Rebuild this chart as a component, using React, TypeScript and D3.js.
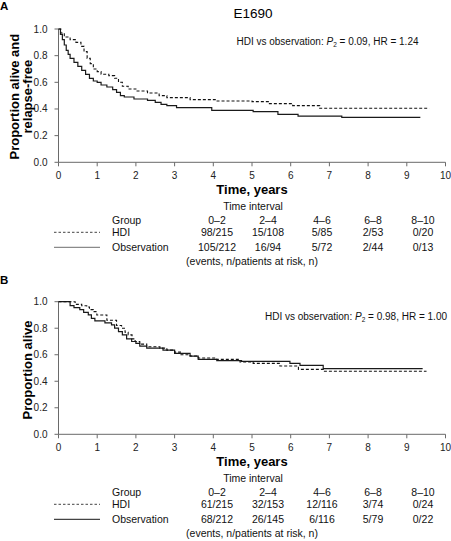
import React from "react";
import * as d3 from "d3";

// ---------- Data ----------
const xTicks = [0, 1, 2, 3, 4, 5, 6, 7, 8, 9, 10];
const yTicks = [0, 0.2, 0.4, 0.6, 0.8, 1.0];
const intervals = ["0–2", "2–4", "4–6", "6–8", "8–10"];

// Panel A (E1690, relapse-free survival)
const aHdiTimes = [0, 0.06, 0.15, 0.3, 0.45, 0.58, 0.66, 0.74, 0.82, 0.9, 1.0, 1.1, 1.3, 1.45, 1.55, 1.65, 1.8, 2.0, 2.3, 2.6, 2.8, 3.4, 4.05, 5.0, 5.45, 6.05, 6.75, 9.58];
const aHdiSurv = [1.0, 0.97, 0.94, 0.92, 0.9, 0.87, 0.83, 0.78, 0.74, 0.7, 0.68, 0.66, 0.65, 0.63, 0.6, 0.57, 0.55, 0.535, 0.52, 0.5, 0.485, 0.47, 0.46, 0.455, 0.44, 0.425, 0.405, 0.405];
const aObsTimes = [0, 0.05, 0.1, 0.15, 0.2, 0.25, 0.3, 0.4, 0.5, 0.6, 0.7, 0.8, 0.9, 1.0, 1.1, 1.25, 1.4, 1.5, 1.6, 1.7, 1.95, 2.3, 2.5, 2.65, 2.8, 3.05, 3.96, 5.03, 5.67, 6.19, 7.32, 9.35];
const aObsSurv = [1.0, 0.96, 0.92, 0.88, 0.84, 0.81, 0.78, 0.75, 0.72, 0.69, 0.66, 0.63, 0.61, 0.6, 0.58, 0.565, 0.545, 0.525, 0.5, 0.49, 0.475, 0.465, 0.45, 0.435, 0.425, 0.41, 0.39, 0.38, 0.36, 0.347, 0.337, 0.337];
const aHdiRisk = ["98/215", "15/108", "5/85", "2/53", "0/20"];
const aObsRisk = ["105/212", "16/94", "5/72", "2/44", "0/13"];

// Panel B (overall survival)
const bHdiTimes = [0, 0.43, 0.6, 0.73, 0.8, 0.9, 0.99, 1.25, 1.5, 1.63, 1.72, 1.8, 1.9, 1.98, 2.1, 2.28, 2.62, 2.8, 3.0, 3.15, 3.4, 3.61, 4.05, 4.69, 5.03, 5.72, 6.2, 6.84, 9.51];
const bHdiSurv = [1.0, 0.98, 0.97, 0.96, 0.94, 0.925, 0.9, 0.86, 0.82, 0.8, 0.77, 0.75, 0.72, 0.7, 0.68, 0.66, 0.65, 0.635, 0.62, 0.6, 0.59, 0.575, 0.565, 0.545, 0.535, 0.515, 0.49, 0.475, 0.475];
const bObsTimes = [0, 0.3, 0.4, 0.55, 0.65, 0.77, 0.85, 0.94, 1.2, 1.37, 1.45, 1.55, 1.65, 1.76, 1.89, 2.0, 2.1, 2.28, 2.7, 3.0, 3.4, 3.61, 4.09, 4.73, 5.98, 6.24, 6.84, 9.41];
const bObsSurv = [1.0, 0.97, 0.955, 0.94, 0.92, 0.9, 0.875, 0.855, 0.84, 0.825, 0.8, 0.775, 0.75, 0.72, 0.7, 0.685, 0.665, 0.65, 0.635, 0.61, 0.59, 0.565, 0.555, 0.55, 0.535, 0.52, 0.495, 0.495];
const bHdiRisk = ["61/215", "32/153", "12/116", "3/74", "0/24"];
const bObsRisk = ["68/212", "26/145", "6/116", "5/79", "0/22"];

const FONT = "'Liberation Sans', Arial, Helvetica, sans-serif";
const AXIS = "#6a6a6a";

type PanelProps = {
  letter: string;
  letterY: number;
  top: number; // y of 1.0
  bottom: number; // y of 0.0
  yTitle: string[];
  pval: string;
  hr: string;
  annEndY: number;
  annEndX: number;
  hdiT: number[];
  hdiS: number[];
  obsT: number[];
  obsS: number[];
  hdiRisk: string[];
  obsRisk: string[];
  title?: string;
  legendGray: string;
};

function Panel(p: PanelProps) {
  const x = d3.scaleLinear().domain([0, 10]).range([58.5, 445.5]);
  const y = d3.scaleLinear().domain([0, 1]).range([p.bottom, p.top]);
  const line = d3
    .line<[number, number]>()
    .x((d) => x(d[0]))
    .y((d) => y(d[1]))
    .curve(d3.curveStepAfter);
  const hdi = p.hdiT.map((t, i) => [t, p.hdiS[i]] as [number, number]);
  const obs = p.obsT.map((t, i) => [t, p.obsS[i]] as [number, number]);
  const b = p.bottom;
  const colX = [217, 268, 322, 373, 423];
  const rowTI = b + 48;
  const rowG = b + 62;
  const rowH = b + 74;
  const rowO = b + 89;
  const rowE = b + 103;
  return (
    <g fontFamily={FONT}>
      <text x={0} y={p.letterY} fontSize={11.5} fontWeight="bold">
        {p.letter}
      </text>
      {p.title && (
        <text x={253} y={p.top - 11} fontSize={13.5} textAnchor="middle">
          {p.title}
        </text>
      )}
      {/* y axis */}
      <line x1={x(0)} x2={x(0)} y1={y(1)} y2={y(0)} stroke={AXIS} strokeWidth={1} />
      {yTicks.map((t) => (
        <g key={t}>
          <line x1={x(0) - 4} x2={x(0)} y1={y(t)} y2={y(t)} stroke={AXIS} />
          <text x={47.5} y={y(t) + 3.5} fontSize={10} textAnchor="end" fill="#222">
            {t.toFixed(1)}
          </text>
        </g>
      ))}
      {/* x axis */}
      <line x1={x(0)} x2={x(10)} y1={y(0)} y2={y(0)} stroke={AXIS} strokeWidth={1} />
      {xTicks.map((t) => (
        <g key={t}>
          <line x1={x(t)} x2={x(t)} y1={y(0)} y2={y(0) + 4} stroke={AXIS} />
          <text x={x(t)} y={y(0) + 16.5} fontSize={10} textAnchor="middle" fill="#222">
            {t}
          </text>
        </g>
      ))}
      {/* y title */}
      {p.yTitle.length === 2 ? (
        <>
          <text transform={`translate(19,${(p.top + p.bottom) / 2 + 1}) rotate(-90)`} fontSize={13} fontWeight="bold" textAnchor="middle">
            {p.yTitle[0]}
          </text>
          <text transform={`translate(31.5,${(p.top + p.bottom) / 2 + 1}) rotate(-90)`} fontSize={13} fontWeight="bold" textAnchor="middle">
            {p.yTitle[1]}
          </text>
        </>
      ) : (
        <text transform={`translate(31.5,${(p.top + p.bottom) / 2 + 2}) rotate(-90)`} fontSize={13} fontWeight="bold" textAnchor="middle">
          {p.yTitle[0]}
        </text>
      )}
      {/* x title */}
      <text x={252} y={b + 31.5} fontSize={13} fontWeight="bold" textAnchor="middle">
        Time, years
      </text>
      {/* annotation */}
      <text x={p.annEndX} y={p.annEndY} fontSize={10} textAnchor="end" fill="#111">
        HDI vs observation:{" "}
        <tspan fontStyle="italic">P</tspan>
        <tspan fontSize={6.5} dy={2.5}>2</tspan>
        <tspan dy={-2.5}>{` = ${p.pval}, HR = ${p.hr}`}</tspan>
      </text>
      {/* curves */}
      <path d={line(obs) || ""} fill="none" stroke="#1a1a1a" strokeWidth={1.2} />
      <path d={line(hdi) || ""} fill="none" stroke="#111" strokeWidth={1.1} strokeDasharray="3,2" />
      {/* risk table */}
      <g fontSize={10.5} fill="#111">
        <text x={253} y={rowTI} textAnchor="middle">Time interval</text>
        <text x={112} y={rowG}>Group</text>
        {intervals.map((s, i) => (
          <text key={s} x={colX[i]} y={rowG} textAnchor="middle">{s}</text>
        ))}
        <line x1={54} x2={100} y1={rowH - 4} y2={rowH - 4} stroke="#444" strokeDasharray="2.5,2" strokeWidth={1} />
        <text x={112} y={rowH}>HDI</text>
        {p.hdiRisk.map((s, i) => (
          <text key={i} x={colX[i]} y={rowH} textAnchor="middle">{s}</text>
        ))}
        <line x1={54} x2={100} y1={rowO - 4} y2={rowO - 4} stroke={p.legendGray} strokeWidth={1.2} />
        <text x={112} y={rowO}>Observation</text>
        {p.obsRisk.map((s, i) => (
          <text key={i} x={colX[i]} y={rowO} textAnchor="middle">{s}</text>
        ))}
        <text x={252} y={rowE} textAnchor="middle">(events, n/patients at risk, n)</text>
      </g>
    </g>
  );
}

export default function App() {
  return (
    <svg
      width={451}
      height={541}
      viewBox="0 0 451 541"
      style={{ position: "absolute", left: 0, top: 0, background: "#fff" }}
    >
      <rect x={0} y={0} width={451} height={541} fill="#fff" />
      <Panel
        letter="A"
        letterY={10}
        title="E1690"
        top={29}
        bottom={162.3}
        yTitle={["Proportion alive and", "relapse-free"]}
        pval="0.09"
        hr="1.24"
        annEndX={418.5}
        annEndY={44.5}
        hdiT={aHdiTimes}
        hdiS={aHdiSurv}
        obsT={aObsTimes}
        obsS={aObsSurv}
        hdiRisk={aHdiRisk}
        obsRisk={aObsRisk}
        legendGray="#8a8a8a"
      />
      <Panel
        letter="B"
        letterY={284}
        top={301.7}
        bottom={434.3}
        yTitle={["Proportion alive"]}
        pval="0.98"
        hr="1.00"
        annEndX={447}
        annEndY={319.5}
        hdiT={bHdiTimes}
        hdiS={bHdiSurv}
        obsT={bObsTimes}
        obsS={bObsSurv}
        hdiRisk={bHdiRisk}
        obsRisk={bObsRisk}
        legendGray="#444"
      />
    </svg>
  );
}
